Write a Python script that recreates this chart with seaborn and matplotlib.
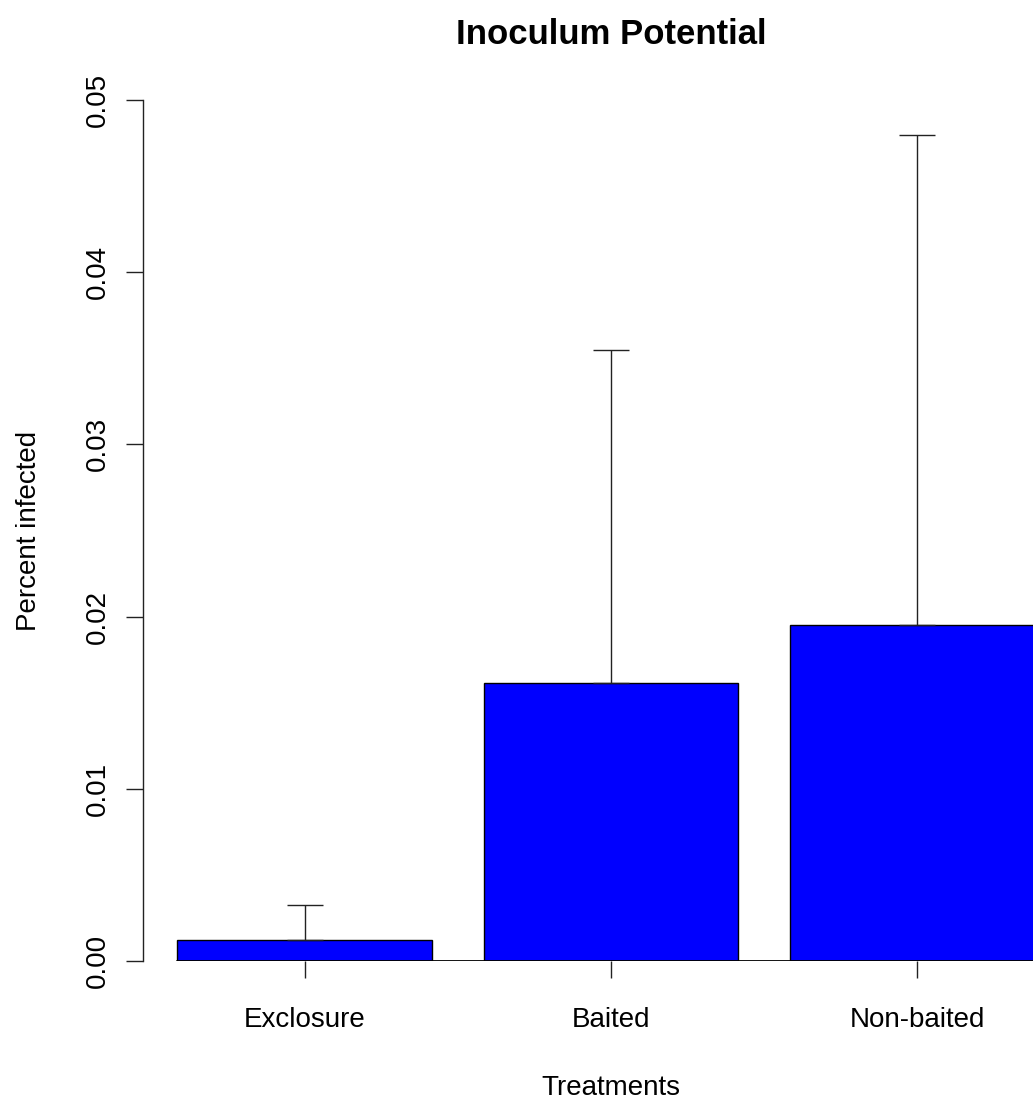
import pandas as pd
import numpy as np
import matplotlib
matplotlib.use('Agg')
import matplotlib.pyplot as plt
import seaborn as sns

treatments = ['Exclosure', 'Baited', 'Non-baited']
percent_infected = [0.00122, 0.01614, 0.01951]
std_error = [0.00203, 0.01934, 0.02846]
y_ticks = [0.00, 0.01, 0.02, 0.03, 0.04, 0.05]
y_tick_labels = ['0.00', '0.01', '0.02', '0.03', '0.04', '0.05']


def plot_inoculum_potential():
    sns.set_style('white')
    plt.rcParams['font.family'] = ['Liberation Sans', 'DejaVu Sans']
    plt.rcParams['text.color'] = 'black'
    plt.rcParams['axes.labelcolor'] = 'black'

    df_data = pd.DataFrame({'Treatments': treatments, 'Percent infected': percent_infected})

    fig = plt.figure(figsize=(10.33, 11.02), dpi=100)
    # axes run past the right edge like the R device crop
    ax = fig.add_axes([143 / 1033, 141 / 1102, 936 / 1033, 861 / 1102])

    sns.barplot(data=df_data, x='Treatments', y='Percent infected', color='#0000FF',
                saturation=1, edgecolor='black', linewidth=1.0, width=0.833, ax=ax, zorder=2)
    ax.errorbar(np.arange(len(treatments)), percent_infected,
                yerr=[np.zeros(len(std_error)), std_error], fmt='none',
                ecolor='#222222', elinewidth=1.0, capsize=13, capthick=1.0, zorder=3)

    ax.axhline(0, xmin=34 / 936, xmax=1, color='black', linewidth=1.3, zorder=4)

    ax.set_xlim(-0.529, 2.529)
    ax.set_ylim(0, 0.05)
    ax.set_yticks(y_ticks)
    ax.set_yticklabels(y_tick_labels, rotation=90, va='center')

    for side in ['top', 'right', 'bottom']:
        ax.spines[side].set_visible(False)
    ax.spines['left'].set_color('#222222')
    ax.spines['left'].set_linewidth(1.0)

    ax.tick_params(axis='both', which='both', length=12, width=1.0, color='#222222',
                   labelsize=20, labelcolor='black', direction='out', left=True, bottom=True)
    ax.tick_params(axis='y', pad=11)
    ax.tick_params(axis='x', pad=21)

    ax.set_xlabel('Treatments', fontsize=20, color='black')
    ax.set_ylabel('Percent infected', fontsize=20, color='black')
    ax.xaxis.set_label_coords(0.5, -0.132)
    ax.yaxis.set_label_coords(-0.108, 0.5)
    ax.set_title('Inoculum Potential', fontsize=25, fontweight='bold', pad=40, color='black')

    plt.savefig('out.png', dpi=100)


plot_inoculum_potential()
